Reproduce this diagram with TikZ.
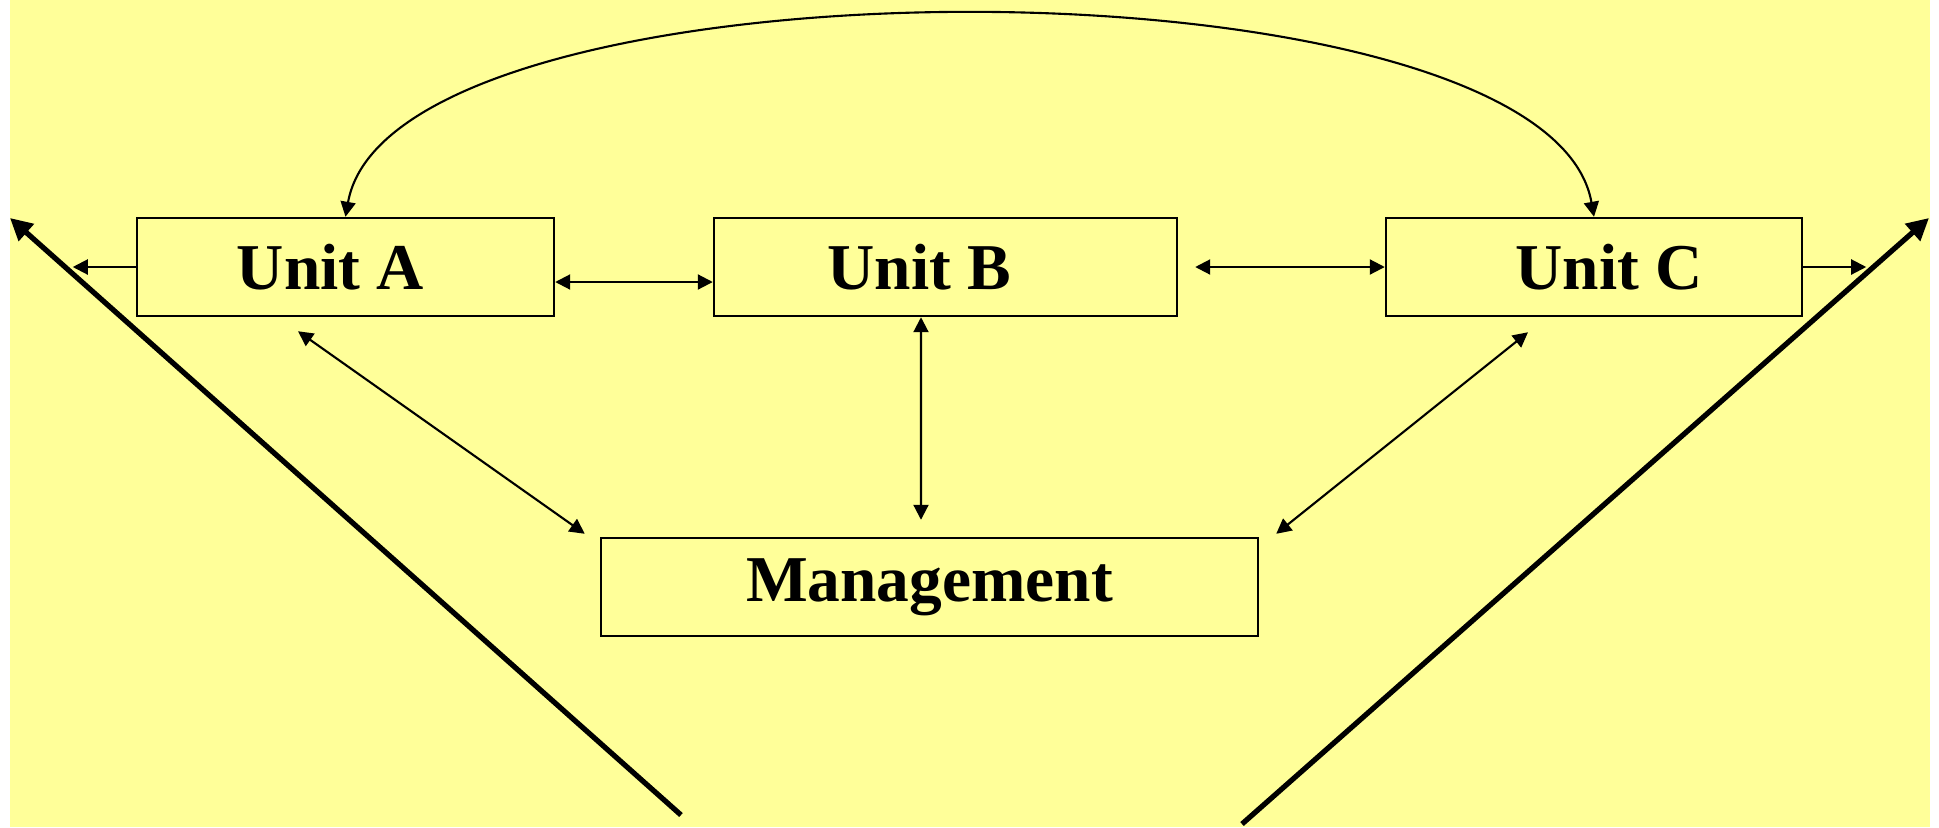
\documentclass[tikz,border=0pt]{standalone}
\usepackage{fontspec}
\setmainfont{Liberation Serif}
\usetikzlibrary{arrows.meta}
\usetikzlibrary{calc}
\usepackage{xcolor}
\definecolor{paleyellow}{RGB}{255,255,153}

\begin{document}
\begin{tikzpicture}
        % ================= 样式 =================
        \tikzset{
            % 单元方框
            unitbox/.style={rectangle, draw=black, line width=0.7pt, minimum height=0.98cm, inner sep=0pt},
            boxtext/.style={font=\fontsize{18.6}{22}\selectfont\bfseries},
            % 细箭头
            link/.style={line width=0.6pt, black, arrows={-Triangle[length=1.5mm, width=1.5mm]}},
            dlink/.style={line width=0.6pt, black, arrows={Triangle[length=1.5mm, width=1.5mm]-Triangle[length=1.5mm, width=1.5mm]}},
            % 粗箭头
            bigarrow/.style={line width=1.5pt, black, arrows={-Triangle[length=2.2mm, width=2.2mm]}}
        }

        % ================= 背景 =================
        \useasboundingbox (0,0) rectangle (19.39,8.27);
        \fill[paleyellow] (0.10,0) rectangle (19.30,8.27);

        % ================= 三个单元 + 管理层 =================
        \foreach \n/\x/\w/\d in {A/3.455/4.17/-0.15, B/9.455/4.63/-0.26, C/15.94/4.16/0.15} {
            \node[unitbox, minimum width=\w cm, label={[boxtext, xshift=\d cm]center:Unit \n}] (u\n) at (\x,5.60) {};
        }
        \node[unitbox, boxtext, minimum width=6.57cm] (mgmt) at (9.295,2.40) {Management};

        % 外侧端点
        \coordinate (outA) at ([xshift=-0.63cm]uA.west);
        \coordinate (outC) at ([xshift=0.63cm]uC.east);
        \coordinate (baseL) at (6.81,0.12);
        \coordinate (tipL) at (0.10,6.09);
        \coordinate (baseR) at (12.42,0.03);
        \coordinate (tipR) at (19.29,6.09);

        % ================= 单元之间 =================
        \draw[dlink] ([yshift=-0.15cm]uA.east) -- ([yshift=-0.15cm]uB.west);
        \draw[dlink] ([xshift=0.17cm]uB.east) -- (uC.west);
        \draw[dlink] (uA.north) to[out=80, in=100, looseness=0.56] (uC.north);
        \draw[link] (uA.west) -- (outA);
        \draw[link] (uC.east) -- (outC);

        % ================= 单元与管理层 =================
        \draw[dlink] ([shift={(-0.475,-0.14)}]uA.south) -- ([shift={(-0.15,0.03)}]mgmt.north west);
        \draw[dlink] ([xshift=-0.245cm]uB.south) -- ([shift={(-0.085,0.17)}]mgmt.north);
        \draw[dlink] ([shift={(-0.66,-0.15)}]uC.south) -- ([shift={(0.17,0.03)}]mgmt.north east);

        % ================= 两条粗箭头 =================
        \draw[bigarrow] (baseL) -- (tipL);
        \draw[bigarrow] (baseR) -- (tipR);

    \end{tikzpicture}
\end{document}
